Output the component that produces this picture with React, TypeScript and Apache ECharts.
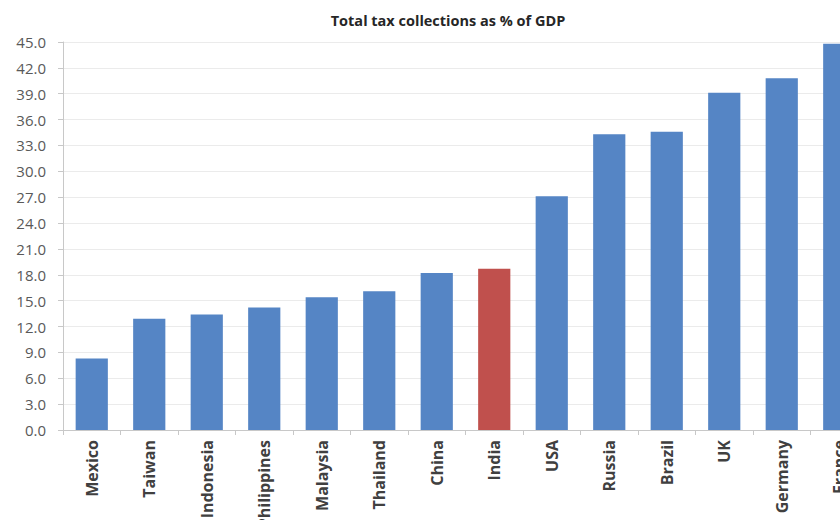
import React, { useEffect, useRef } from "react";
import * as echarts from "echarts";

const categories = [
  "Mexico", "Taiwan", "Indonesia", "Philippines", "Malaysia", "Thailand", "China",
  "India", "USA", "Russia", "Brazil", "UK", "Germany", "France",
];
const taxPct = [8.3, 12.9, 13.4, 14.2, 15.4, 16.1, 18.2, 18.7, 27.1, 34.3, 34.6, 39.1, 40.8, 44.8];
const highlight = "India";
const yTicks = { min: 0, max: 45, interval: 3 };

export default function App() {
  const ref = useRef<HTMLDivElement>(null);
  useEffect(() => {
    const chart = echarts.init(ref.current!, null, { renderer: "svg" });
    chart.setOption({
      animation: false,
      backgroundColor: "#ffffff",
      title: {
        text: "Total tax collections as % of GDP",
        left: 443,
        top: 8,
        textAlign: "center",
        textStyle: { fontFamily: "Open Sans", fontSize: 14.5, fontWeight: "bold", color: "#262626" },
      },
      grid: { left: 63, right: 32, top: 42, bottom: 90, containLabel: false, outerBoundsMode: "none" },
      xAxis: {
        type: "category",
        data: categories,
        axisLine: { lineStyle: { color: "#c8c8c8" } },
        axisTick: { show: true, length: 5, lineStyle: { color: "#c8c8c8" } },
        axisLabel: {
          rotate: 90,
          interval: 0,
          margin: 10,
          fontFamily: "Open Sans",
          fontSize: 16,
          fontWeight: "bold",
          color: "#404040",
        },
      },
      yAxis: {
        type: "value",
        min: yTicks.min,
        max: yTicks.max,
        interval: yTicks.interval,
        axisLine: { show: true, lineStyle: { color: "#c8c8c8" } },
        axisTick: { show: true, length: 5, lineStyle: { color: "#c8c8c8" } },
        splitLine: { lineStyle: { color: "#ebebeb" } },
        axisLabel: {
          formatter: (v: number) => v.toFixed(1),
          margin: 17,
          fontFamily: "Open Sans",
          fontSize: 15,
          color: "#595959",
        },
      },
      series: [
        {
          type: "bar",
          barCategoryGap: "44%",
          data: taxPct.map((v, i) => ({
            value: v,
            itemStyle: { color: categories[i] === highlight ? "#C0504D" : "#5585C5" },
          })),
        },
      ],
    });
    return () => chart.dispose();
  }, []);
  return (
    <div style={{ position: "fixed", left: 0, top: 0, width: 840, height: 520, overflow: "hidden" }}>
      <div ref={ref} style={{ width: 900, height: 520 }} />
    </div>
  );
}
